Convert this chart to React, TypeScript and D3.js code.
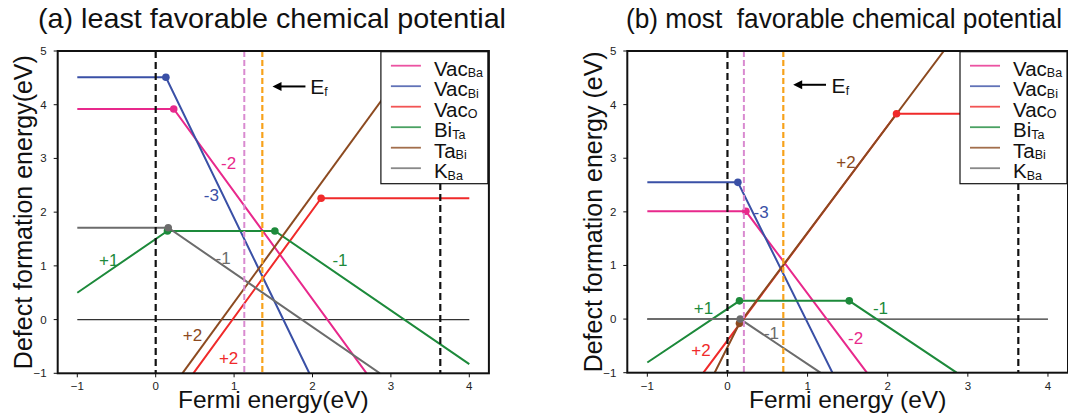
import * as d3 from "d3";

const W = 1068;
const H = 414;
const FONT = "'Liberation Sans', Arial, Helvetica, sans-serif";

const xTicks = [-1, 0, 1, 2, 3, 4];
const yTicks = [-1, 0, 1, 2, 3, 4, 5];
const defectNames = [["Vac", "Ba"], ["Vac", "Bi"], ["Vac", "O"], ["Bi", "Ta"], ["Ta", "Bi"], ["K", "Ba"]];
const defectColors = ["#e8298c", "#3a50a6", "#f02a2a", "#1d8a3b", "#8c4a20", "#6c6c6c"];

// (a) least favorable: [E_F, formation energy] corners of each defect line
const vacBaA = [[-1, 3.92], [0.23, 3.92], [2.69, -1]];
const vacBiA = [[-1, 4.51], [0.13, 4.51], [1.96, -1]];
const vacOA = [[0.48, -1], [2.11, 2.26], [4, 2.26]];
const biTaA = [[-1, 0.5], [0.15, 1.65], [1.52, 1.65], [4, -0.83]];
const taBiA = [[0.34, -1], [3.34, 5]];
const kBaA = [[-1, 1.71], [0.16, 1.71], [2.86, -1]];
// transition levels (dots), by defect index
const dotsA = [[0, 0.23, 3.92], [1, 0.13, 4.51], [2, 2.11, 2.26], [3, 0.15, 1.65], [3, 1.52, 1.65], [5, 0.16, 1.71]];
// charge labels: text, defect index, E_F, energy
const chargeA = [["-2", 0, 0.93, 2.92], ["-3", 1, 0.71, 2.31], ["+1", 3, -0.6, 1.11], ["-1", 5, 0.86, 1.14], ["-1", 3, 2.35, 1.1], ["+2", 4, 0.47, -0.29], ["+2", 2, 0.93, -0.71]];
const edgesA = [0, 3.63];
const pinA = 1.13;
const fermiA = 1.36;
const arrowA = [1.91, 1.49, 4.34, 1.97];

// (b) most favorable
const vacBaB = [[-1, 2.01], [0.23, 2.01], [1.74, -1]];
const vacBiB = [[-1, 2.55], [0.13, 2.55], [1.31, -1]];
const vacOB = [[-0.3, -1], [2.11, 3.83], [4, 3.83]];
const biTaB = [[-1, -0.81], [0.15, 0.34], [1.52, 0.34], [2.86, -1]];
const taBiB = [[-0.16, -1], [0.15, -0.08], [2.7, 5]];
const kBaB = [[-1, 0], [0.16, 0], [1.16, -1]];
const dotsB = [[0, 0.23, 2.01], [1, 0.13, 2.55], [2, 2.11, 3.83], [3, 0.15, 0.34], [3, 1.52, 0.34], [4, 0.15, -0.08], [5, 0.16, 0]];
const chargeB = [["+2", 4, 1.48, 2.92], ["-3", 1, 0.42, 2.0], ["+1", 3, -0.3, 0.2], ["-1", 3, 1.91, 0.21], ["-1", 5, 0.55, -0.26], ["-2", 0, 1.6, -0.35], ["+2", 2, -0.33, -0.58]];
const edgesB = [0, 3.63];
const pinB = 0.205;
const fermiB = 0.697;
const arrowB = [1.23, 0.82, 4.37, 1.3];

type P = {
  id: string; x0: number; x1: number; y0: number; y1: number;
  title: string; titleX: number; titleW: number; yLabel: string; yLabelX: number; xLabel: string;
  lines: number[][][]; dots: any[]; charges: any[]; edges: number[]; pin: number; fermi: number; arrow: number[];
};

function Panel(p: P) {
  const x = d3.scaleLinear().domain([-1.25, 4.25]).range([p.x0, p.x1]);
  const y = d3.scaleLinear().domain([-1, 5]).range([p.y1, p.y0]);
  const line = d3.line<number[]>().x(d => x(d[0])).y(d => y(d[1]));
  const lx = p.x1 - 108;
  const ly = p.y0 + 0.7;
  const [aFrom, aTo, aY, tX] = p.arrow;
  return (
    <g fontFamily={FONT}>
      <defs>
        <clipPath id={p.id}>
          <rect x={p.x0} y={p.y0} width={p.x1 - p.x0} height={p.y1 - p.y0} />
        </clipPath>
      </defs>
      <text x={p.titleX - p.titleW / 2} y={28} fontSize={27.5} fill="#111" style={{ whiteSpace: "pre" }}
        textLength={p.titleW} lengthAdjust="spacingAndGlyphs">{p.title}</text>
      <g clipPath={`url(#${p.id})`}>
        <line x1={x(-1)} x2={x(4)} y1={y(0)} y2={y(0)} stroke="#333" strokeWidth={1.3} />
        {p.lines.map((pts, i) => (
          <path key={i} d={line(pts) || ""} fill="none" stroke={defectColors[i]} strokeWidth={2} />
        ))}
        {p.dots.map((d, i) => (
          <circle key={i} cx={x(d[1])} cy={y(d[2])} r={3.8} fill={defectColors[d[0]]} />
        ))}
        {p.edges.map((e, i) => (
          <line key={i} x1={x(e)} x2={x(e)} y1={p.y0} y2={p.y1} stroke="#111" strokeWidth={2.2} strokeDasharray="7,4" />
        ))}
        <line x1={x(p.pin)} x2={x(p.pin)} y1={p.y0} y2={p.y1} stroke="#d98ad0" strokeWidth={2} strokeDasharray="6,3" />
        <line x1={x(p.fermi)} x2={x(p.fermi)} y1={p.y0} y2={p.y1} stroke="#f7a21b" strokeWidth={2.2} strokeDasharray="6,3" />
      </g>
      {p.charges.map((c, i) => (
        <text key={i} x={x(c[2])} y={y(c[3])} dy="0.35em" textAnchor="middle" fontSize={17} fill={defectColors[c[1]]}>{c[0]}</text>
      ))}
      <line x1={x(aFrom)} x2={x(aTo) + 7} y1={y(aY)} y2={y(aY)} stroke="#000" strokeWidth={2} />
      <path d={`M${x(aTo)},${y(aY)} l9,-4.5 l0,9 z`} fill="#000" />
      <text x={x(tX)} y={y(aY) + 8} fontSize={21} fill="#111">E<tspan fontSize={12} dy={2}>f</tspan></text>
      {/* legend */}
      <rect x={lx} y={ly} width={107} height={132} fill="#fff" stroke="#111" strokeWidth={1.2} />
      {defectNames.map((n, i) => {
        const ry = ly + 14 + i * 20.5;
        return (
          <g key={i}>
            <line x1={lx + 10} x2={lx + 40} y1={ry} y2={ry} stroke={defectColors[i]} strokeWidth={1.8} opacity={0.8} />
            <text x={lx + 53} y={ry + 10} fontSize={20.5} fill="#111">
              {n[0]}<tspan fontSize={12.5} dy={1.5}>{n[1]}</tspan>
            </text>
          </g>
        );
      })}
      {/* frame and ticks */}
      <rect x={p.x0} y={p.y0} width={p.x1 - p.x0} height={p.y1 - p.y0} fill="none" stroke="#111" strokeWidth={2} />
      {xTicks.map(t => (
        <g key={t}>
          <line x1={x(t)} x2={x(t)} y1={p.y1} y2={p.y1 + 4} stroke="#111" strokeWidth={1} />
          <text x={x(t)} y={p.y1 + 17} textAnchor="middle" fontSize={11.5} fill="#222">{t < 0 ? "\u2212" + -t : t}</text>
        </g>
      ))}
      {yTicks.map(t => (
        <g key={t}>
          <line x1={p.x0 - 4} x2={p.x0} y1={y(t)} y2={y(t)} stroke="#111" strokeWidth={1} />
          <text x={p.x0 - 11} y={y(t)} dy="0.35em" textAnchor="end" fontSize={11.5} fill="#222">{t < 0 ? "\u2212" + -t : t}</text>
        </g>
      ))}
      <text x={(p.x0 + p.x1) / 2} y={408} textAnchor="middle" fontSize={24.5} fill="#111">{p.xLabel}</text>
      <text transform={`translate(${p.yLabelX},${(p.y0 + p.y1) / 2}) rotate(-90)`} textAnchor="middle" dy="0.35em" fontSize={25} fill="#111">{p.yLabel}</text>
    </g>
  );
}

export default function App() {
  return (
    <svg width={W} height={H} style={{ position: "absolute", left: 0, top: 0, background: "#fff" }}>
      <rect width={W} height={H} fill="#fff" />
      <Panel id="clipA" x0={57.7} x1={488.9} y0={51} y1={373.3}
        title="(a) least favorable chemical potential" titleX={272} titleW={468}
        yLabel="Defect formation energy(eV)" yLabelX={23} xLabel="Fermi energy(eV)"
        lines={[vacBaA, vacBiA, vacOA, biTaA, taBiA, kBaA]} dots={dotsA} charges={chargeA}
        edges={edgesA} pin={pinA} fermi={fermiA} arrow={arrowA} />
      <Panel id="clipB" x0={627.3} x1={1068} y0={51} y1={372.7}
        title="(b) most  favorable chemical potential" titleX={844} titleW={436}
        yLabel="Defect formation energy (eV)" yLabelX={593} xLabel="Fermi energy (eV)"
        lines={[vacBaB, vacBiB, vacOB, biTaB, taBiB, kBaB]} dots={dotsB} charges={chargeB}
        edges={edgesB} pin={pinB} fermi={fermiB} arrow={arrowB} />
    </svg>
  );
}
